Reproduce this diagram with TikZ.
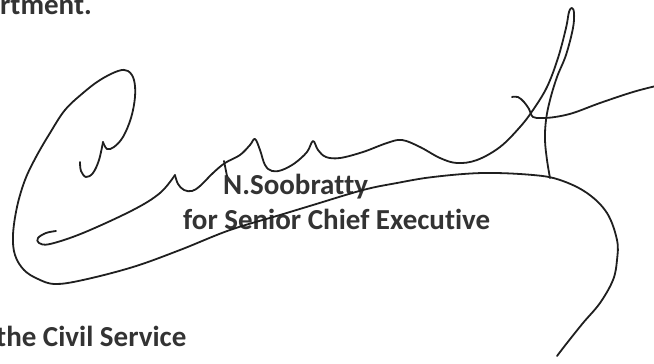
\documentclass[tikz,border=0pt]{standalone}
\usepackage{fontspec}
\setmainfont{Carlito}[Ligatures={NoCommon,NoContextual}]
\newcommand{\nb}{\kern0pt }
\begin{document}
\begin{tikzpicture}[x=1pt,y=-1pt,
  txt/.style={anchor=base west,inner sep=0pt,text=black!80,font=\fontsize{29}{35}\selectfont\bfseries},
  pen/.style={draw=black!88,line width=1.8pt,line cap=round,line join=round}]
\useasboundingbox (0,0) rectangle (654,364);
\node[txt] (t1) at (0,15) {rtment.};
\node[txt] (t2) at (223,194) {N.Soobrat\nb t\nb y};
\node[txt] (t3) at (183,229) {for Senior Chief Execut\nb ive};
\node[txt] (t4) at (-4,346) {the Civil Service};
% big C stroke
\draw[pen] plot[smooth,tension=0.6] coordinates {(80,162) (81,171) (86,177) (93,173) (99,160) (103,142)};
\draw[pen] plot[smooth,tension=0.6] coordinates {(103,142) (107,149) (114,147) (123,137) (131,118) (135,97) (134,80) (128,71) (118,71) (100,80) (83,93) (65,110) (50,133) (36,157) (25,180) (17,207) (13,235) (15,255) (24,270) (38,279) (55,284) (83,280) (133,267) (180,250) (230,230) (280,215) (313,205) (363,190) (397,183) (433,177) (483,173) (533,175) (560,180) (587,193) (607,213) (617,240) (617,260) (613,280) (600,303) (583,323) (567,343) (557,356)};
% inner stroke
\draw[pen] plot[smooth,tension=0.6] coordinates {(56,231) (46,233) (38,238) (39,243) (50,244) (83,233) (133,210) (160,193) (175,175)};
\draw[pen] plot[smooth,tension=0.6] coordinates {(175,175) (178,184) (184,190) (192,191) (200,186) (213,173) (225,163) (240,155) (250,145) (255,139) (260,150) (265,165) (272,171) (282,170) (295,163) (307,152) (313,141) (318,150) (326,157) (340,158) (363,152) (387,143) (402,140) (420,147) (440,158) (457,163) (477,160) (500,147) (520,127) (533,110) (547,87) (558,58) (566,28) (569,12) (572,8) (574,13) (573,28) (566,55) (557,77) (550,100) (546,120) (545,140) (547,160) (550,178)};
\draw[pen] (224,161) -- (227,176);
% crossbar
\draw[pen] plot[smooth,tension=0.6] coordinates {(512,97) (518,97) (524,102) (529,109) (533,117) (542,118) (555,117) (573,113) (600,103) (633,92) (656,86)};
\end{tikzpicture}
\end{document}
